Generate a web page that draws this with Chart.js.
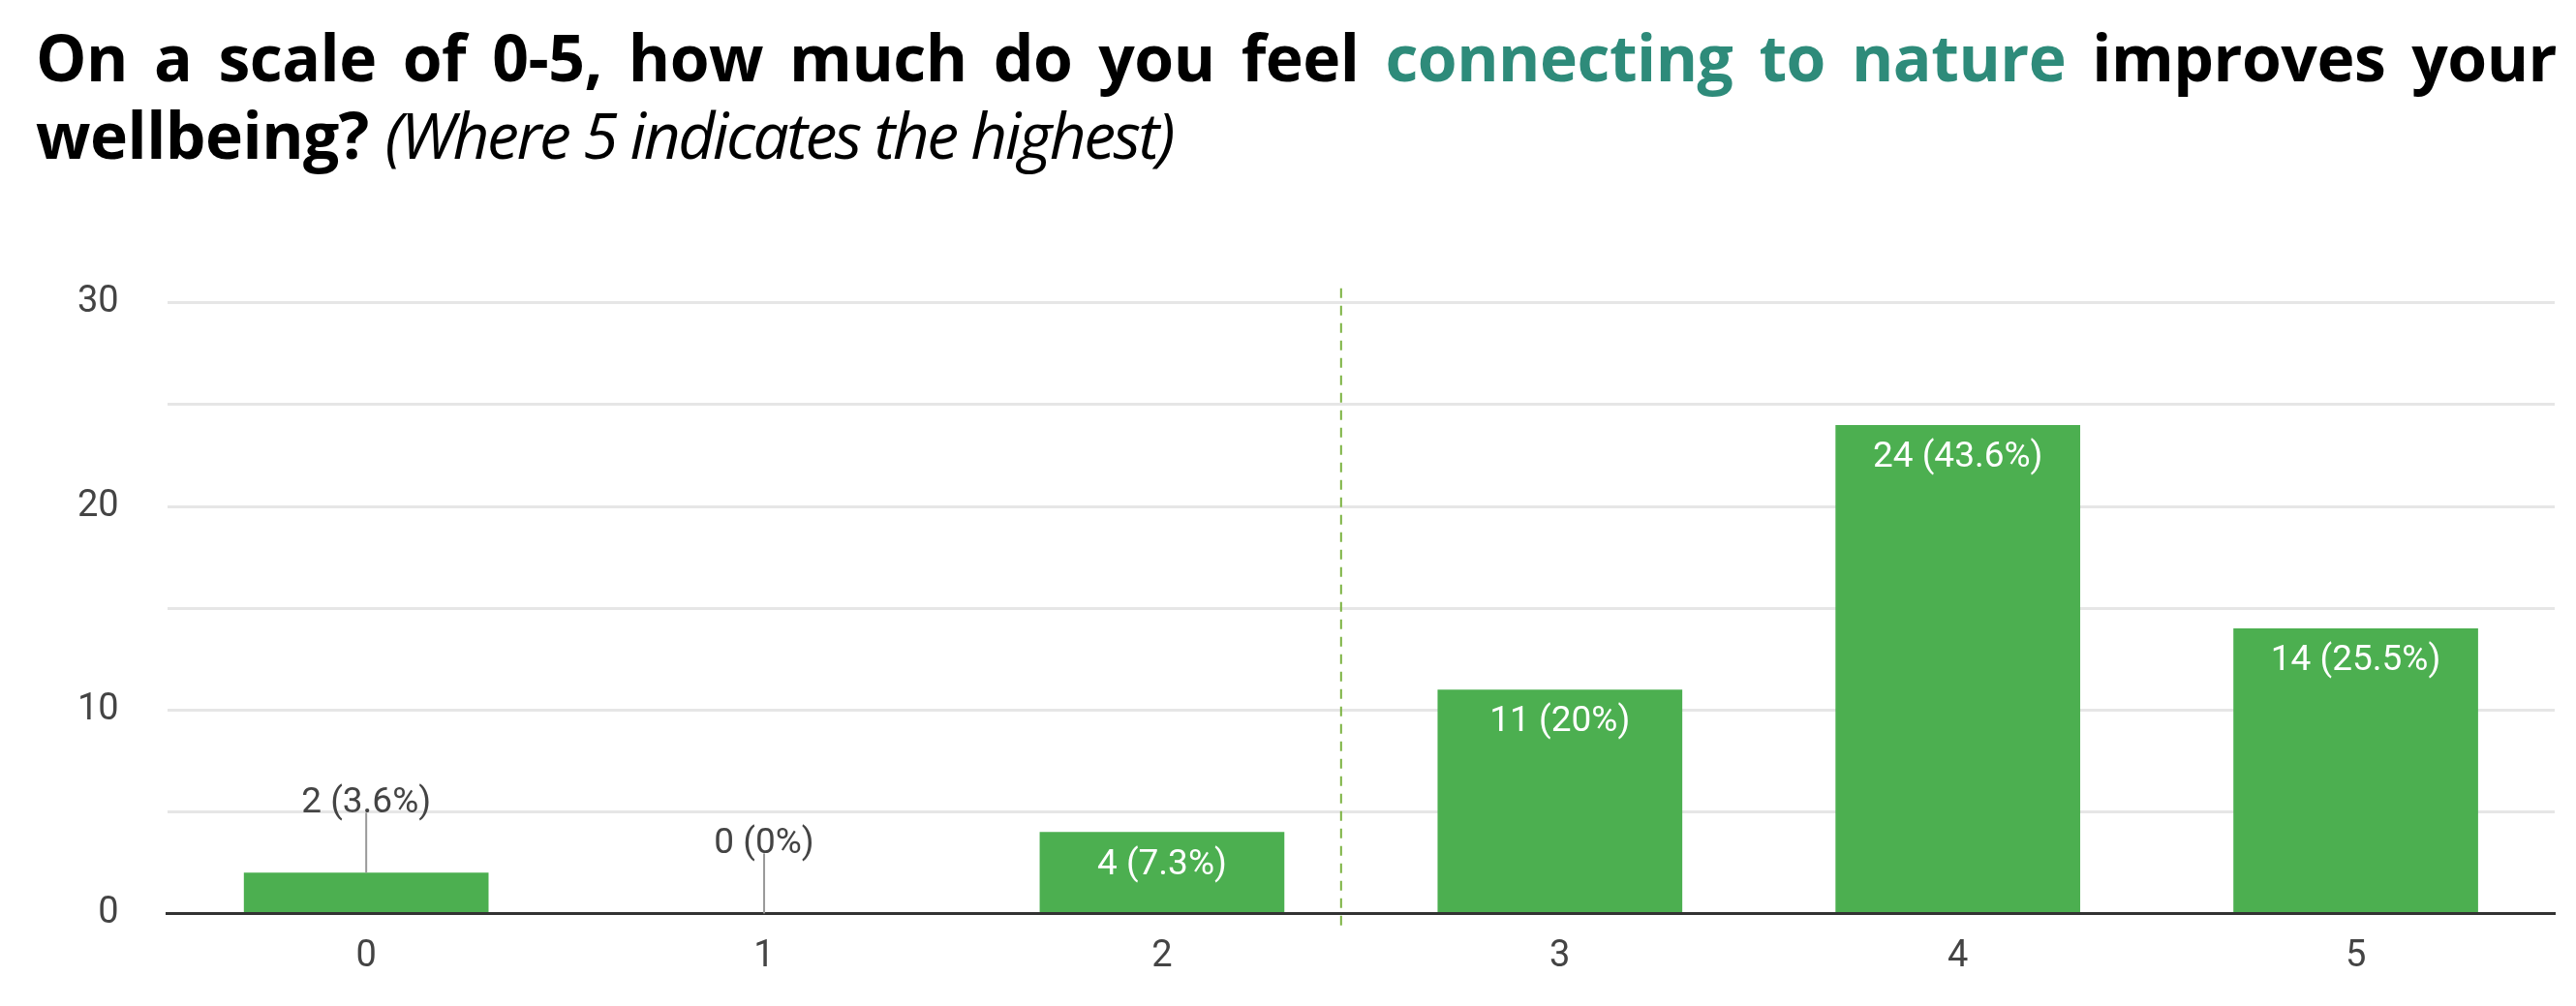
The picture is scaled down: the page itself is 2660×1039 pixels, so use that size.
<!DOCTYPE html>
<html><head><meta charset="utf-8">
<script src="https://cdn.jsdelivr.net/npm/chart.js@4"></script>
<style>
html,body{margin:0;padding:0;background:#fff;width:2660px;height:1039px;overflow:hidden}
#title{position:absolute;left:37px;top:18px;width:2603px;font-family:"Open Sans";font-weight:700;font-size:66px;line-height:80px;color:#000;text-align:justify;letter-spacing:-0.5px}
#title .g{color:#2e8b7a}
#title i{font-weight:400;letter-spacing:-2.5px}
#wrap{position:absolute;left:0;top:240px;width:2660px;height:799px}
</style></head><body>
<div id="title">On a scale of 0-5, how much do you feel <span class="g">connecting to nature</span> improves your wellbeing? <i>(Where 5 indicates the highest)</i></div>
<div id="wrap"><canvas id="c"></canvas></div>
<script>
const categories=["0","1","2","3","4","5"];
const counts=[2,0,4,11,24,14];
const labels=["2 (3.6%)","0 (0%)","4 (7.3%)","11 (20%)","24 (43.6%)","14 (25.5%)"];
const dividerAt=2.45;
const labelPlugin={id:'lbl',afterDatasetsDraw(ch){
  const ctx=ch.ctx,meta=ch.getDatasetMeta(0),x=ch.scales.x,y=ch.scales.y;
  ctx.save();
  const step=x.getPixelForValue(1)-x.getPixelForValue(0);
  const dx=x.getPixelForValue(2)+(dividerAt-2)*step;
  ctx.strokeStyle='#7cb342';ctx.lineWidth=2;ctx.setLineDash([10,8]);
  ctx.beginPath();ctx.moveTo(dx,y.top-15);ctx.lineTo(dx,y.bottom+20);ctx.stroke();ctx.setLineDash([]);
  ctx.font='37px Roboto';ctx.textAlign='center';ctx.textBaseline='middle';
  meta.data.forEach((b,i)=>{
    const v=counts[i];
    if(v<3){
      const top=y.getPixelForValue(v), lt=y.getPixelForValue(v)-62;
      ctx.strokeStyle='#999';ctx.lineWidth=2;
      ctx.beginPath();ctx.moveTo(b.x,top);ctx.lineTo(b.x,lt);ctx.stroke();
      ctx.fillStyle='#444';ctx.fillText(labels[i],b.x,lt-10);
    } else {
      ctx.fillStyle='#fff';ctx.fillText(labels[i],b.x,b.y+34);
    }
  });
  ctx.restore();
}};
new Chart(document.getElementById('c'),{
  type:'bar',
  data:{labels:categories,datasets:[{data:counts,backgroundColor:'#4caf50',categoryPercentage:1,barPercentage:0.615}]},
  options:{responsive:true,maintainAspectRatio:false,animation:false,
    layout:{padding:{top:10,right:22,left:30,bottom:14}},
    plugins:{legend:{display:false},tooltip:{enabled:false}},
    scales:{
      x:{grid:{display:false},border:{color:'#333',width:3},ticks:{color:'#444',font:{family:'Roboto',size:38},padding:14}},
      y:{min:0,max:30,ticks:{stepSize:5,color:'#444',font:{family:'Roboto',size:38},padding:50,callback:v=>v%10===0?v:''},
         grid:{color:'#e6e6e6',lineWidth:3,drawTicks:false},border:{display:false}}
    }},
  plugins:[labelPlugin]
});
</script></body></html>
